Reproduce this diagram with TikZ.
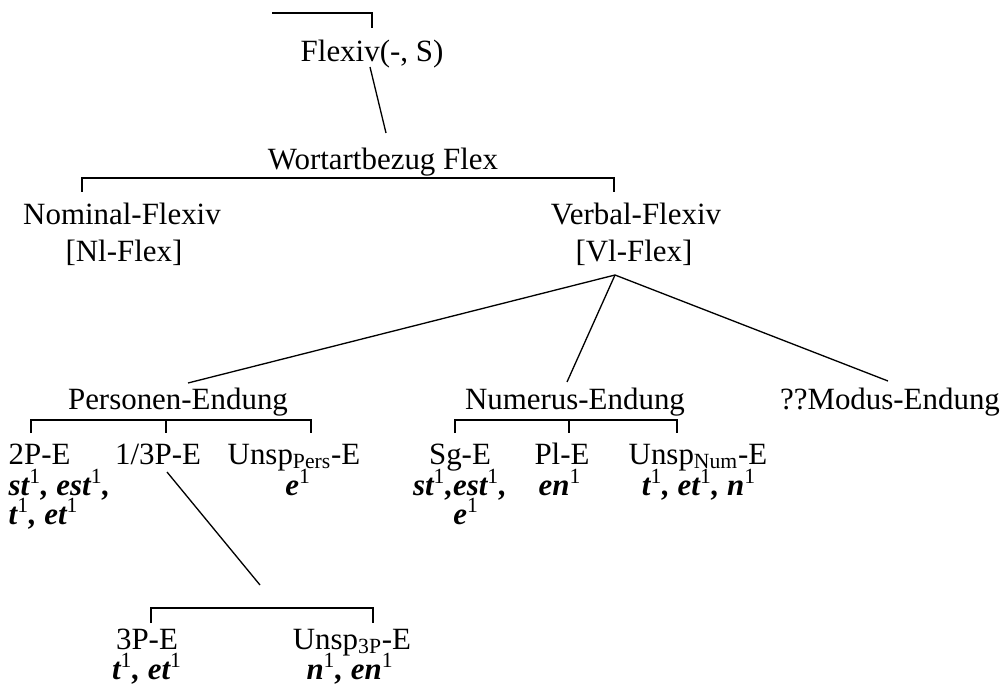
\documentclass[tikz,border=0pt]{standalone}
\usepackage{fontspec}
\setmainfont{Liberation Serif}
\usetikzlibrary{calc}
\newcommand{\lab}{\fontsize{17.6}{21}\selectfont}
\newcommand{\eins}{\textsuperscript{\normalfont 1}}

\begin{document}
\begin{tikzpicture}[x=0.02cm, y=-0.02cm, line width=0.75pt, font=\lab,
    lbl/.style={inner sep=0pt, anchor=base},
    lblw/.style={lbl, anchor=base west},
    suff/.style={lbl, font=\lab\bfseries\itshape},
    suffw/.style={lblw, font=\lab\bfseries\itshape}]
  \useasboundingbox (0,0) rectangle (1004,689);

  % upper levels
  \node[lbl] (flexiv) at (372,62)  {Flexiv(-, S)};
  \node[lbl] (wab)    at (383,170) {Wortartbezug Flex};
  \node[lbl] (nom)    at (122,225) {Nominal-Flexiv};
  \node[lbl] (nomk)   at (124,261) {[Nl-Flex]};
  \node[lbl] (verb)   at (636,225) {Verbal-Flexiv};
  \node[lbl] (verbk)  at (634,261) {[Vl-Flex]};

  % endings
  \node[lbl] (pers)  at (178,409) {Personen-Endung};
  \node[lbl] (num)   at (575,409) {Numerus-Endung};
  \node[lbl] (modus) at (890,409) {??Modus-Endung};

  \node[lblw]  (p2)    at (8,464)   {2P-E};
  \node[suffw] (p2a)   at (8,495)   {st\eins, est\eins,};
  \node[suffw] (p2b)   at (8,524)   {t\eins, et\eins};
  \node[lbl]   (p13)   at (158,464) {1/3P-E};
  \node[lbl]   (pu)    at (294,464) {Unsp\textsubscript{Pers}-E};
  \node[suff]  (pua)   at (298,495) {e\eins};

  \node[lbl]   (sg)    at (460,464) {Sg-E};
  \node[suff]  (sga)   at (460,495) {st\eins,est\eins,};
  \node[suff]  (sgb)   at (466,524) {e\eins};
  \node[lbl]   (pl)    at (562,464) {Pl-E};
  \node[suff]  (pla)   at (560,495) {en\eins};
  \node[lbl]   (nu)    at (698,464) {Unsp\textsubscript{Num}-E};
  \node[suff]  (nua)   at (699,495) {t\eins, et\eins, n\eins};

  \node[lbl]   (p3)    at (147,649) {3P-E};
  \node[suff]  (p3a)   at (147,679) {t\eins, et\eins};
  \node[lbl]   (p3u)   at (352,649) {Unsp\textsubscript{3P}-E};
  \node[suff]  (p3ua)  at (350,679) {n\eins, en\eins};

  % joints
  \coordinate (top)    at (272,13);
  \coordinate (fx-up)  at (372,28);
  \coordinate (fx-dn)  at (370,67);
  \coordinate (wab-up) at (386,133);
  \coordinate (vb-dn)  at (615,275);
  \coordinate (pe-up)  at (188,383);
  \coordinate (ne-up)  at (567,382);
  \coordinate (me-up)  at (888,381);
  \coordinate (p13-dn) at (167,472);
  \coordinate (p3-up)  at (260,585);

  % connectors
  \draw (top) -| (fx-up);
  \draw (fx-dn) -- (wab-up);
  \draw (82,192) |- (614,178) -- (614,192);
  \draw (vb-dn) -- (pe-up);
  \draw (vb-dn) -- (ne-up);
  \draw (vb-dn) -- (me-up);
  \draw (31,433) |- (311,420) -- (311,433);
  \draw (166,420) -- (166,433);
  \draw (455,433) |- (677,420) -- (677,433);
  \draw (569,420) -- (569,433);
  \draw (p13-dn) -- (p3-up);
  \draw (151,623) |- (373,608) -- (373,623);
\end{tikzpicture}
\end{document}
